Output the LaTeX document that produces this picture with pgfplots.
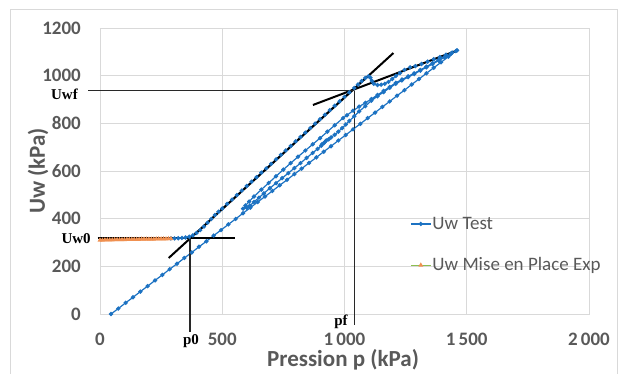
\documentclass[border=0pt]{standalone}
\usepackage{pgfplots}
\pgfplotsset{compat=1.18}
\usepackage{fontspec}
\setmainfont{Carlito}
\newfontfamily\serifb{Liberation Serif}
\definecolor{uwblue}{RGB}{28,114,194}
\definecolor{uworange}{RGB}{237,125,49}
\definecolor{uwgreen}{RGB}{140,190,80}
\definecolor{gridgray}{RGB}{217,217,217}
\definecolor{txtgray}{RGB}{89,89,89}
\definecolor{linegray}{RGB}{40,40,40}
\begin{document}
\begin{tikzpicture}
\useasboundingbox (-100pt,-59pt) rectangle (519pt,314pt);
\draw[gridgray, line width=1pt] (-89pt,304.5pt) rectangle (517pt,-80pt);
\begin{axis}[
  at={(0,0)}, anchor=south west,
  scale only axis, width=489pt, height=286pt,
  xmin=0, xmax=2000, ymin=0, ymax=1200,
  xtick={0,500,1000,1500,2000},
  xticklabels={0,500,1\,000,1\,500,2\,000},
  ytick={0,200,400,600,800,1000,1200},
  yticklabels={0,200,400,600,800,1000,1200},
  grid=major, major grid style={gridgray, line width=0.8pt},
  axis line style={gridgray, line width=0.8pt},
  major tick length=0pt,
  tick label style={font=\fontsize{19}{22}\selectfont\bfseries, text=txtgray, inner sep=0pt},
  xticklabel style={anchor=north, yshift=-19pt},
  yticklabel style={anchor=east, xshift=-19pt},
  clip=false,
  xlabel={Pression p (kPa)}, ylabel={Uw (kPa)},
  every axis x label/.style={at={(axis description cs:0.497,-0.183)}, anchor=base, inner sep=0pt, font=\fontsize{23}{26}\selectfont\bfseries, text=txtgray},
  every axis y label/.style={at={(axis description cs:-0.1125,0.5)}, rotate=90, anchor=base, inner sep=0pt, font=\fontsize{23}{26}\selectfont\bfseries, text=txtgray},
  legend style={at={(rel axis cs:0.634,0.343)}, anchor=north west, draw=none, fill=none, font=\fontsize{19}{22}\selectfont, text=txtgray, row sep=25pt, inner sep=0pt, nodes={inner sep=1pt}},
  legend cell align=left,
  legend image code/.code={\draw[#1, mark repeat=2, mark phase=2] plot coordinates {(0pt,0pt) (10pt,0pt) (20pt,0pt)};},
]
\addplot[uwblue, line width=1.2pt, mark=*, mark size=1.5pt, mark options={fill=uwblue, draw=uwblue}] coordinates {
(290,317)(305,317)(320,318)(335,319)(350,321)(365,324)(380,330)(395,340)(410,352)(425,367)(440,383)(455,399)(470,415)(485,429)(500,443)(520,462)(540,480)(560,499)(580,518)(600,537)(620,555)(640,574)(660,593)(680,611)(700,630)(720,649)(740,668)(760,686)(780,705)(800,724)(820,743)(840,761)(860,780)(880,799)(900,817)(920,836)(940,855)(960,874)(980,892)(1000,911)(1020,930)(1040,948)
(1055,963)(1070,977)(1085,990)(1098,998)(1106,992)(1112,978)(1120,966)(1135,961)(1150,962)(1165,966)(1180,974)(1195,986)(1210,999)(1227,1011)(1245,1024)(1268,1035)(1290,1040)(1315,1049)(1340,1059)(1365,1069)(1390,1078)(1415,1088)(1440,1097)(1460,1106)
(1435,1092)(1410,1079)(1385,1066)(1360,1052)(1335,1038)(1310,1024)(1285,1010)(1260,997)(1235,984)(1210,970)(1185,953)(1160,936)(1135,919)(1110,902)(1085,886)(1060,870)(1035,853)(1010,834)(994,822)(960,792)(930,765)(900,738)(870,712)(840,686)(810,660)(780,633)(750,606)(720,578)(690,550)(660,522)(630,493)(610,472)(595,455)(585,442)
(600,446)(613,455)(630,470)(650,488)(670,506)(695,528)(720,549)(745,570)(770,591)(795,612)(820,633)(845,655)(870,676)(890,693)(905,706)(915,716)(908,712)(920,722)(935,733)(925,728)(945,741)(960,752)(975,765)(990,780)(1005,795)(1020,810)(1040,830)(1060,850)(1085,872)(1110,895)(1135,914)(1160,931)(1185,949)(1210,966)(1235,980)(1260,994)(1285,1007)(1310,1021)(1335,1035)(1360,1049)(1385,1063)(1410,1077)(1435,1091)(1460,1106)
(1455,1103)(1425,1080)(1395,1056)(1365,1033)(1335,1010)(1305,986)(1275,963)(1245,939)(1215,916)(1185,892)(1155,869)(1125,845)(1095,822)(1065,798)(1035,775)(1005,751)(975,728)(945,704)(915,681)(885,657)(855,634)(825,610)(795,587)(765,563)(735,540)(705,516)(675,493)(645,470)(615,446)(585,423)(555,399)(525,376)(495,352)(465,329)(435,305)(405,282)(375,258)(345,235)(315,211)(285,188)(255,164)(225,141)(195,117)(165,94)(135,70)(105,47)(75,23)(45,0)
};
\addlegendentry{Uw Test}
\addplot[uwgreen, line width=1.1pt, mark=triangle*, mark size=1.7pt, mark options={fill=uworange!85!white, draw=uworange!85!white}] coordinates {
(0,310)(10,310)(20,311)(30,311)(40,311)(50,311)(60,312)(70,312)(80,312)(90,312)(100,312)(110,313)(120,313)(130,313)(140,313)(150,313)(160,313)(170,314)(180,314)(190,314)(200,314)(210,314)(220,314)(230,315)(240,315)(250,315)(260,315)(270,315)(280,316)(290,316)
};
\addlegendentry{Uw Mise en Place Exp}
% construction lines
\addplot[black, line width=2pt, forget plot] coordinates {(281,235) (1200,1095)};
\addplot[black, line width=2pt, forget plot] coordinates {(871,877) (1464,1107)};
\addplot[black, line width=1.8pt, forget plot] coordinates {(-10,320) (552,320)};
\addplot[linegray, line width=1.2pt, forget plot] coordinates {(-49,937) (1040,937)};
\addplot[linegray, line width=1.3pt, forget plot] coordinates {(368,320) (368,-75)};
\addplot[linegray, line width=1.3pt, forget plot] coordinates {(1040,937) (1040,-46)};
\node[anchor=east, inner sep=0pt, font=\fontsize{15}{17}\selectfont\serifb\bfseries] at (axis cs:-90,923) {Uwf};
\node[anchor=east, inner sep=0pt, font=\fontsize{15}{17}\selectfont\serifb\bfseries] at (axis cs:-37,315) {Uw0};
\node[inner sep=0pt, font=\fontsize{15}{17}\selectfont\serifb\bfseries] at (axis cs:372,-113) {p0};
\node[inner sep=0pt, font=\fontsize{15}{17}\selectfont\serifb\bfseries] at (axis cs:986,-34) {pf};
\end{axis}
\end{tikzpicture}
\end{document}
